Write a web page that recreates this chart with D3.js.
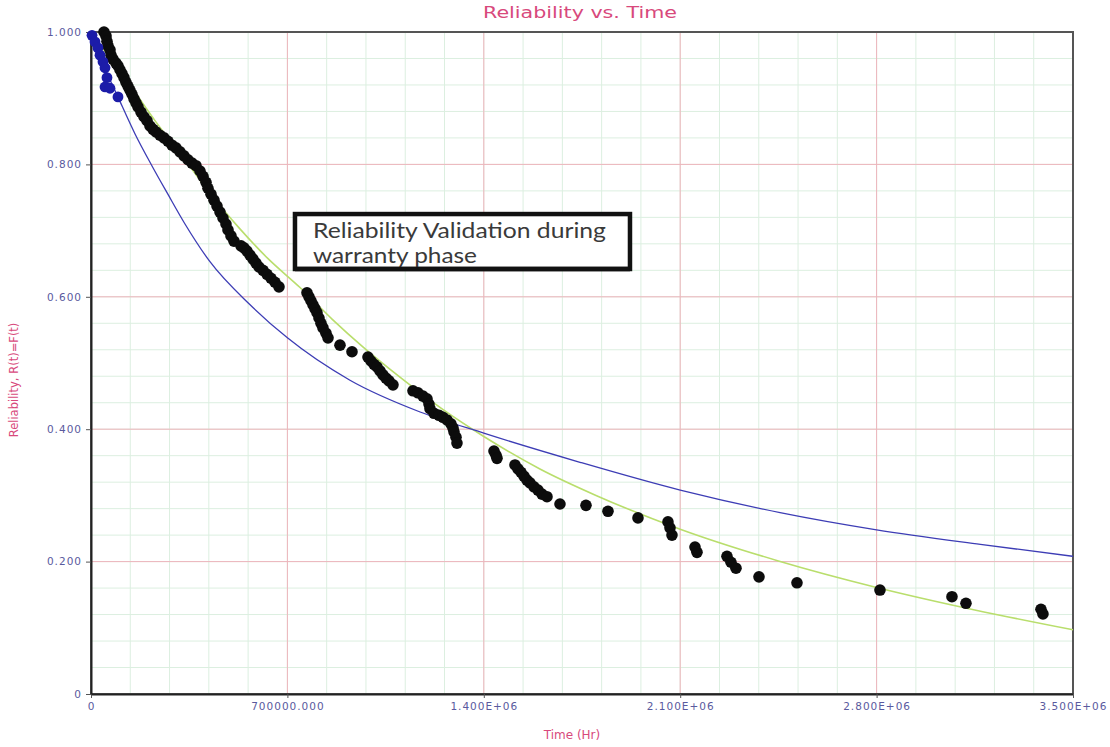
<!DOCTYPE html>
<html>
<head>
<meta charset="utf-8">
<script src="https://cdnjs.cloudflare.com/ajax/libs/d3/7.8.5/d3.min.js"></script>
<style>
  body { margin: 0; background: #fff; }
  svg { display: block; }
</style>
</head>
<body>
<script>
// observed failures (time in hr, reliability)
var obsTime = [46300, 53500, 57000, 60600, 67700, 71300, 78400, 89100, 96200, 103400, 110500, 117600,
  124700, 131900, 139000, 146100, 153300, 160400, 167500, 178200, 188900, 199600, 210300, 221000,
  231700, 245900, 260200, 274400, 288700, 302900, 317200, 331500, 345700, 360000, 374200, 388500,
  399200, 409900, 417000, 427700, 438400, 449100, 459800, 470400, 481100, 488300, 499000, 509700,
  534600, 545300, 556000, 566700, 577400, 588100, 598800, 613000, 627300, 641500, 655800, 670000,
  769800, 777000, 784100, 791200, 798300, 805500, 812600, 819700, 826800, 837500, 844700,
  887400, 930200,
  987200, 997900, 1008600, 1019300, 1030000, 1040700, 1051400, 1062100, 1076300,
  1147600, 1165400, 1183200, 1197500, 1204600, 1208200, 1222500, 1240300, 1254500, 1268800, 1283000,
  1290200, 1293700, 1300900, 1304400,
  1436300, 1443400, 1447000,
  1511100, 1521800, 1532500, 1543200, 1553900, 1564600, 1578900, 1593100, 1607400, 1625200,
  1671500, 1764200, 1842600, 1949500, 2056400, 2063600, 2070700, 2152700, 2159800, 2266700,
  2281000, 2298800, 2380800, 2516200, 2812000, 3068600, 3118500, 3385800, 3392900];
var obsRel = [1.000, 0.994, 0.986, 0.979, 0.973, 0.965, 0.959, 0.953, 0.949, 0.943, 0.937, 0.931,
  0.924, 0.918, 0.912, 0.906, 0.899, 0.893, 0.887, 0.879, 0.872, 0.866, 0.858, 0.853,
  0.849, 0.844, 0.840, 0.835, 0.829, 0.825, 0.819, 0.813, 0.807, 0.802, 0.798, 0.790,
  0.782, 0.773, 0.764, 0.755, 0.746, 0.737, 0.728, 0.719, 0.710, 0.701, 0.692, 0.684,
  0.677, 0.674, 0.669, 0.663, 0.657, 0.651, 0.645, 0.640, 0.634, 0.628, 0.622, 0.615,
  0.606, 0.600, 0.594, 0.588, 0.582, 0.576, 0.568, 0.560, 0.553, 0.545, 0.538,
  0.527, 0.517,
  0.509, 0.503, 0.498, 0.494, 0.488, 0.482, 0.477, 0.473, 0.467,
  0.458, 0.455, 0.450, 0.446, 0.438, 0.431, 0.424, 0.421, 0.418, 0.414, 0.408,
  0.402, 0.396, 0.388, 0.379,
  0.367, 0.361, 0.356,
  0.346, 0.340, 0.335, 0.329, 0.323, 0.319, 0.313, 0.308, 0.302, 0.298,
  0.287, 0.285, 0.276, 0.266, 0.260, 0.251, 0.240, 0.222, 0.214, 0.208,
  0.199, 0.190, 0.177, 0.168, 0.157, 0.147, 0.137, 0.128, 0.121];

// early (blue) data set
var earlyTime = [3600, 14300, 24900, 32100, 42800, 49900, 57000, 49900, 67700, 96200];
var earlyRel = [0.995, 0.985, 0.976, 0.965, 0.955, 0.946, 0.931, 0.917, 0.915, 0.902];

// blue fitted line
var blueTime = [0, 50000, 96000, 157000, 217000, 274000, 335000, 424000, 567000, 700000, 923000,
  1173000, 1400000, 1743000, 2100000, 2456000, 2800000, 3170000, 3500000];
var blueRel = [1.0, 0.945, 0.902, 0.846, 0.798, 0.755, 0.710, 0.653, 0.588, 0.538, 0.474,
  0.426, 0.394, 0.350, 0.308, 0.274, 0.248, 0.226, 0.208];

// green fitted line
var greenTime = [0, 60000, 130000, 230000, 335000, 430000, 530000, 630000, 745000, 860000, 970000,
  1100000, 1250000, 1400000, 1600000, 1800000, 2100000, 2450000, 2800000, 3150000, 3500000];
var greenRel = [1.0, 0.965, 0.925, 0.865, 0.807, 0.753, 0.703, 0.658, 0.614, 0.566, 0.524,
  0.479, 0.431, 0.389, 0.340, 0.300, 0.249, 0.201, 0.161, 0.127, 0.097];

var xTicks = [0, 700000, 1400000, 2100000, 2800000, 3500000];
var xTickLabels = ["0", "700000.000", "1.400E+06", "2.100E+06", "2.800E+06", "3.500E+06"];
var yTicks = [0, 0.2, 0.4, 0.6, 0.8, 1.0];
var yTickLabels = ["0", "0.200", "0.400", "0.600", "0.800", "1.000"];

var titleText = "Reliability vs. Time";
var xTitle = "Time (Hr)";
var yTitle = "Reliability, R(t)=F(t)";
var noteLines = ["Reliability Validation during", "warranty phase"];

var W = 1110, H = 747;
var mLeft = 91, mRight = 1073, mTop = 32, mBottom = 694;

var svg = d3.select("body").append("svg").attr("width", W).attr("height", H);

var x = d3.scaleLinear().domain([0, 3500000]).range([mLeft, mRight]);
var y = d3.scaleLinear().domain([0, 1]).range([mBottom, mTop]);

// minor grid
var minorX = d3.range(0, 3500001, 140000);
var minorY = d3.range(0, 1.0001, 0.04);
var grid = svg.append("g");
grid.selectAll("line.mx").data(minorX).enter().append("line")
  .attr("x1", function(d){return x(d);}).attr("x2", function(d){return x(d);})
  .attr("y1", mTop).attr("y2", mBottom)
  .attr("stroke", "#dcefe0").attr("stroke-width", 1);
grid.selectAll("line.my").data(minorY).enter().append("line")
  .attr("y1", function(d){return y(d);}).attr("y2", function(d){return y(d);})
  .attr("x1", mLeft).attr("x2", mRight)
  .attr("stroke", "#dcefe0").attr("stroke-width", 1);
// major grid
grid.selectAll("line.Mx").data(xTicks).enter().append("line")
  .attr("x1", function(d){return x(d);}).attr("x2", function(d){return x(d);})
  .attr("y1", mTop).attr("y2", mBottom)
  .attr("stroke", "#eeb4bc").attr("stroke-width", 1);
grid.selectAll("line.My").data(yTicks).enter().append("line")
  .attr("y1", function(d){return y(d);}).attr("y2", function(d){return y(d);})
  .attr("x1", mLeft).attr("x2", mRight)
  .attr("stroke", "#eeb4bc").attr("stroke-width", 1);

// frame
svg.append("rect").attr("x", mLeft).attr("y", mTop)
  .attr("width", mRight - mLeft).attr("height", mBottom - mTop)
  .attr("fill", "none").attr("stroke", "#555").attr("stroke-width", 2);

// axes
var xAxis = d3.axisBottom(x).tickValues(xTicks)
  .tickFormat(function(d, i){return xTickLabels[i];}).tickSize(4).tickSizeOuter(0);
var yAxis = d3.axisLeft(y).tickValues(yTicks)
  .tickFormat(function(d, i){return yTickLabels[i];}).tickSize(5).tickSizeOuter(0);

var gx = svg.append("g").attr("transform", "translate(0," + mBottom + ")").call(xAxis);
var gy = svg.append("g").attr("transform", "translate(" + mLeft + ",0)").call(yAxis);
[gx, gy].forEach(function(g){
  g.select(".domain").attr("stroke", "#222").attr("stroke-width", 2);
  g.selectAll(".tick line").attr("stroke", "#555");
  g.selectAll(".tick text").attr("fill", "#5a5a9e")
    .style("font-family", "'DejaVu Sans', sans-serif").style("font-size", "10.5px")
    .style("letter-spacing", "1px");
});
gx.selectAll(".tick text").attr("dy", "0.85em");
gy.selectAll(".tick text").attr("x", -9);

// fitted lines
var line = d3.line()
  .x(function(d){return x(d[0]);})
  .y(function(d){return y(d[1]);})
  .curve(d3.curveMonotoneX);

var blueLine = blueTime.map(function(t, i){return [t, blueRel[i]];});
var greenLine = greenTime.map(function(t, i){return [t, greenRel[i]];});

svg.append("path").attr("d", line(greenLine))
  .attr("fill", "none").attr("stroke", "#b9de6c").attr("stroke-width", 1.6);
svg.append("path").attr("d", line(blueLine))
  .attr("fill", "none").attr("stroke", "#3d3db5").attr("stroke-width", 1.3);

// points
var early = earlyTime.map(function(t, i){return [t, earlyRel[i]];});
var obs = obsTime.map(function(t, i){return [t, obsRel[i]];});

svg.append("g").selectAll("circle").data(obs).enter().append("circle")
  .attr("cx", function(d){return x(d[0]);}).attr("cy", function(d){return y(d[1]);})
  .attr("r", 5.8).attr("fill", "#0c0c0c");
svg.append("g").selectAll("circle").data(early).enter().append("circle")
  .attr("cx", function(d){return x(d[0]);}).attr("cy", function(d){return y(d[1]);})
  .attr("r", 5.4).attr("fill", "#1c1ca8");

// annotation box
var boxT0 = 727000, boxT1 = 1921000, boxR0 = 0.725, boxR1 = 0.642;
var nb = svg.append("g");
nb.append("rect")
  .attr("x", x(boxT0)).attr("y", y(boxR0))
  .attr("width", x(boxT1) - x(boxT0)).attr("height", y(boxR1) - y(boxR0))
  .attr("fill", "#fff").attr("stroke", "#111").attr("stroke-width", 4.5);
var noteWidths = [293, 164];
nb.selectAll("text").data(noteLines).enter().append("text")
  .attr("x", x(boxT0) + 18)
  .attr("y", function(d, i){return y(boxR0) + 24 + i * 25;})
  .attr("fill", "#3a3a3a")
  .attr("textLength", function(d, i){return noteWidths[i];})
  .attr("lengthAdjust", "spacingAndGlyphs")
  .style("font-family", "Lato, 'Open Sans', sans-serif").style("font-size", "21px")
  .text(function(d){return d;});
// bottom border drawn again so it cuts through the second line
nb.append("line")
  .attr("x1", x(boxT0)).attr("x2", x(boxT1))
  .attr("y1", y(boxR1)).attr("y2", y(boxR1))
  .attr("stroke", "#111").attr("stroke-width", 4.5);

// titles
svg.append("text").attr("x", 580).attr("y", 18).attr("text-anchor", "middle")
  .attr("fill", "#d8497c").style("font-family", "'DejaVu Sans', sans-serif")
  .attr("textLength", 194).attr("lengthAdjust", "spacingAndGlyphs")
  .style("font-size", "16px").text(titleText);
svg.append("text").attr("x", 572).attr("y", 739).attr("text-anchor", "middle")
  .attr("fill", "#d8497c").style("font-family", "'DejaVu Sans', sans-serif")
  .style("font-size", "12px").text(xTitle);
svg.append("text").attr("transform", "translate(18,380) rotate(-90)").attr("text-anchor", "middle")
  .attr("fill", "#d8497c").style("font-family", "'DejaVu Sans', sans-serif")
  .style("font-size", "11.5px").text(yTitle);
</script>
</body>
</html>
